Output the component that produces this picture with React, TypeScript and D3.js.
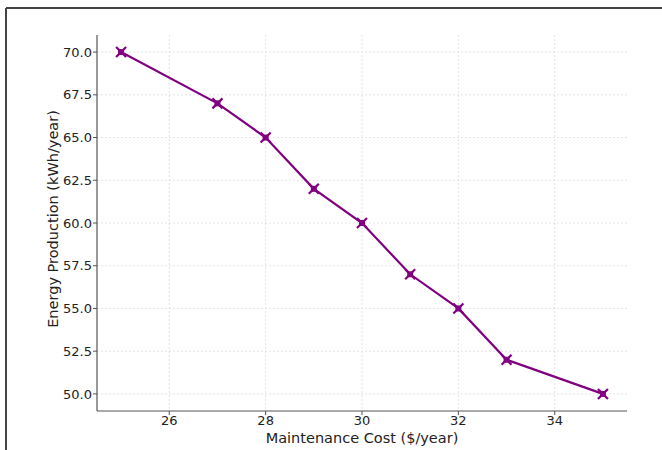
import React from 'react';
import * as d3 from 'd3';

const cost = [25, 27, 28, 29, 30, 31, 32, 33, 35];
const energy = [70, 67, 65, 62, 60, 57, 55, 52, 50];
const xTicks = [26, 28, 30, 32, 34];
const yTicks = [50, 52.5, 55, 57.5, 60, 62.5, 65, 67.5, 70];

const W = 662;
const H = 450;
const plot = { left: 97, right: 627, top: 35, bottom: 411 };
const color = '#800080';
const font = '"DejaVu Sans", sans-serif';

export default function App() {
  const x = d3.scaleLinear().domain([24.5, 35.5]).range([plot.left, plot.right]);
  const y = d3.scaleLinear().domain([49, 71]).range([plot.bottom, plot.top]);

  const pts = cost.map((c, i) => [c, energy[i]] as [number, number]);
  const line = d3
    .line<[number, number]>()
    .x((d) => x(d[0]))
    .y((d) => y(d[1]));

  return (
    <svg
      width={W}
      height={H}
      style={{ position: 'absolute', left: 0, top: 0, background: '#fff' }}
    >
      {/* outer frame */}
      <line x1={6} y1={8} x2={W} y2={8} stroke="#444" strokeWidth={2} />
      <line x1={6} y1={8} x2={6} y2={H} stroke="#444" strokeWidth={2} />

      {/* grid */}
      {xTicks.map((t) => (
        <line
          key={'gx' + t}
          x1={x(t)}
          x2={x(t)}
          y1={plot.top}
          y2={plot.bottom}
          stroke="#ddd"
          strokeWidth={0.8}
          strokeDasharray="2,2"
        />
      ))}
      {yTicks.map((t) => (
        <line
          key={'gy' + t}
          x1={plot.left}
          x2={plot.right}
          y1={y(t)}
          y2={y(t)}
          stroke="#ddd"
          strokeWidth={0.8}
          strokeDasharray="2,2"
        />
      ))}

      {/* spines */}
      <line x1={plot.left} x2={plot.left} y1={plot.top} y2={plot.bottom} stroke="#555" strokeWidth={1.2} />
      <line x1={plot.left} x2={plot.right} y1={plot.bottom} y2={plot.bottom} stroke="#555" strokeWidth={1.2} />

      {/* ticks */}
      {xTicks.map((t) => (
        <g key={'tx' + t}>
          <line x1={x(t)} x2={x(t)} y1={plot.bottom} y2={plot.bottom + 4} stroke="#555" />
          <text
            x={x(t)}
            y={plot.bottom + 14}
            textAnchor="middle"
            fontFamily={font}
            fontSize={13}
            fill="#222"
          >
            {t}
          </text>
        </g>
      ))}
      {yTicks.map((t) => (
        <g key={'ty' + t}>
          <line x1={plot.left - 4} x2={plot.left} y1={y(t)} y2={y(t)} stroke="#555" />
          <text
            x={plot.left - 5}
            y={y(t)}
            dy="0.36em"
            textAnchor="end"
            fontFamily={font}
            fontSize={13}
            fill="#222"
          >
            {t.toFixed(1)}
          </text>
        </g>
      ))}

      {/* axis labels */}
      <text
        x={(plot.left + plot.right) / 2}
        y={443}
        textAnchor="middle"
        fontFamily={font}
        fontSize={14.5}
        fill="#222"
      >
        Maintenance Cost ($/year)
      </text>
      <text
        transform={`translate(58, 219) rotate(-90)`}
        textAnchor="middle"
        fontFamily={font}
        fontSize={14.5}
        fill="#222"
      >
        Energy Production (kWh/year)
      </text>

      {/* series */}
      <path d={line(pts) ?? ''} fill="none" stroke={color} strokeWidth={2.2} />
      {pts.map((d, i) => {
        const cx = x(d[0]);
        const cy = y(d[1]);
        const r = 5;
        return (
          <g key={'m' + i} stroke={color} strokeWidth={2.2}>
            <line x1={cx - r} y1={cy - r} x2={cx + r} y2={cy + r} />
            <line x1={cx - r} y1={cy + r} x2={cx + r} y2={cy - r} />
            <rect x={cx - 3} y={cy - 3} width={6} height={6} fill={color} stroke="none" />
          </g>
        );
      })}
    </svg>
  );
}
